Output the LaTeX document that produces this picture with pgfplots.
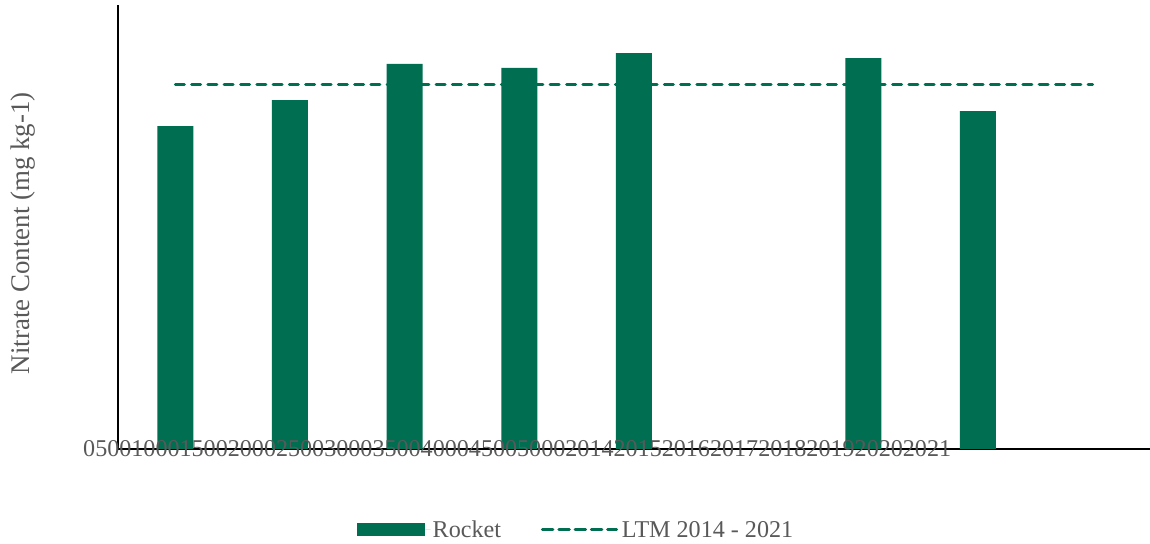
\documentclass[border=0pt]{standalone}
\usepackage{pgfplots}
\pgfplotsset{compat=1.18}
\usepackage{fontspec}
\setmainfont{Liberation Serif}
\definecolor{rk}{HTML}{006E51}
\definecolor{tx}{HTML}{595959}
\begin{document}
\begin{tikzpicture}[x=1bp,y=1bp]
\useasboundingbox (-118,-95) rectangle (1032,449);
\begin{axis}[
  at={(0,0)}, anchor=south west,
  scale only axis, width=1032bp, height=444bp,
  xmin=0.5, xmax=9.5, ymin=0, ymax=5000,
  axis x line=bottom, axis y line=left,
  axis line style={-, black, line width=1.5bp},
  xtick=\empty, ytick=\empty,
  ylabel={Nitrate Content (mg kg-1)},
  ylabel style={at={(axis description cs:-0.092,0.486)}, anchor=center,
    font=\fontsize{27}{31}\selectfont, text=tx},
  legend columns=2,
  legend style={at={(rel axis cs:0.4438,-0.182)}, anchor=center, draw=none,
    font=\fontsize{24.2}{28}\selectfont, text=tx,
    /tikz/every even column/.append style={column sep=38bp}},
  clip=false,
]
\addplot[ybar, bar width=36bp, fill=rk, draw=none,
  legend image code/.code={\fill[rk] (0bp,-6.5bp) rectangle (68bp,6.5bp); \path (0bp,0bp) -- (74bp,0bp);}]
  coordinates {(1,3637)(2,3930)(3,4336)(4,4291)(5,4459)(7,4403)(8,3806)};
\addlegendentry{Rocket}
\addplot[rk, line width=3bp, dash pattern=on 9bp off 7.3bp, line cap=round,
  legend image code/.code={\draw[rk, line width=3bp, dash pattern=on 9bp off 7.3bp, line cap=round] (1.5bp,0bp) -- (72bp,0bp); \path (0bp,0bp) -- (76bp,0bp);}]
  coordinates {(1,4099)(9,4099)};
\addlegendentry{LTM 2014 - 2021}
\node[anchor=west, inner sep=0pt, font=\fontsize{24.2}{28}\selectfont, text=tx]
  at (rel axis cs:0,0) [xshift=-35bp] {050010001500200025003000350040004500500020142015201620172018201920202021};
\end{axis}
\end{tikzpicture}
\end{document}
